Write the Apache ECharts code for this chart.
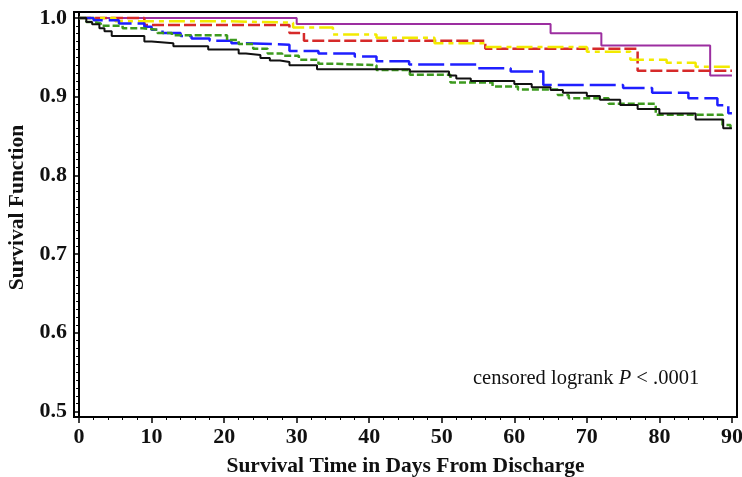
<!DOCTYPE html>
<html>
<head>
<meta charset="utf-8">
<script src="https://cdn.jsdelivr.net/npm/echarts@6/dist/echarts.min.js"></script>
<style>
  html, body { margin: 0; padding: 0; background: #fff; }
  #chart { width: 742px; height: 477px; }
</style>
</head>
<body>
<div id="chart"></div>
<script>
// step points: day of each drop and the survival after it
var purpleDays = [0, 30, 65, 72, 87, 90];
var purpleSurv = [1.0, 0.9924, 0.9806, 0.965, 0.927, 0.927];

var redDays = [0, 9, 29, 31, 56, 77, 90];
var redSurv = [1.0, 0.991, 0.981, 0.971, 0.961, 0.933, 0.933];

var yellowDays = [0, 5, 20, 29.5, 35, 41, 49, 56, 70, 76, 81, 85, 90];
var yellowSurv = [1.0, 0.996, 0.994, 0.988, 0.979, 0.975, 0.968, 0.963, 0.957, 0.947, 0.943, 0.938, 0.938];

var blueDays = [0, 2, 5.5, 9, 10, 11.5, 14, 15.5, 18, 21, 23, 29, 33, 38, 41, 45.5, 55, 59.5, 64, 75, 79, 84, 88, 89.5, 90];
var blueSurv = [1.0, 0.997, 0.993, 0.989, 0.985, 0.981, 0.977, 0.974, 0.971, 0.968, 0.966, 0.958, 0.955, 0.951, 0.945, 0.941, 0.936, 0.932, 0.915, 0.911, 0.905, 0.898, 0.889, 0.879, 0.879];

var greenDays = [0, 1, 2, 3, 6, 8.8, 10.8, 12.8, 20.4, 22, 24, 26, 28, 30.3, 33, 34.6, 41, 45.6, 51.2, 57, 60.5, 66, 67.5, 73, 79.5, 88.7, 89.8, 90];
var greenSurv = [1.0, 0.995, 0.993, 0.990, 0.987, 0.985, 0.981, 0.978, 0.972, 0.967, 0.961, 0.955, 0.952, 0.947, 0.942, 0.940, 0.934, 0.928, 0.918, 0.913, 0.909, 0.902, 0.898, 0.891, 0.877, 0.864, 0.861, 0.861];

var blackDays = [0, 1, 1.8, 2.8, 3.5, 4.5, 9, 10, 13, 17.8, 22, 23, 25, 26.3, 27.7, 29, 32.8, 45.6, 51, 52, 54, 60, 62.4, 65, 66.7, 70, 71.8, 74.6, 77, 80, 85, 88.8, 90];
var blackSurv = [1.0, 0.995, 0.992, 0.987, 0.983, 0.977, 0.970, 0.968, 0.964, 0.960, 0.955, 0.953, 0.949, 0.946, 0.944, 0.940, 0.935, 0.932, 0.927, 0.923, 0.920, 0.916, 0.912, 0.9085, 0.905, 0.901, 0.896, 0.8895, 0.8845, 0.8785, 0.871, 0.860, 0.860];

var xTicks = [0, 10, 20, 30, 40, 50, 60, 70, 80, 90];
var yTicks = [0.5, 0.6, 0.7, 0.8, 0.9, 1.0];

var xMinor = [];
for (var d = 2; d < 90; d += 2) {
    if (d % 10 !== 0) xMinor.push(d);
}
var yMinor = [];
for (var k = 51; k < 100; k++) {
    if (k % 10 !== 0) yMinor.push(k / 100);
}

function pairs(days, surv) {
    return days.map(function (t, i) { return [t, surv[i]]; });
}

function kmLine(name, days, surv, color, width, dash) {
    return {
        name: name,
        type: 'line',
        step: 'end',
        symbol: 'none',
        silent: true,
        data: pairs(days, surv),
        lineStyle: { color: color, width: width, type: dash }
    };
}

var serif = '"Liberation Serif", "DejaVu Serif", serif';

var myChart = echarts.init(document.getElementById('chart'));
var option = {
    animation: false,
    backgroundColor: '#fff',
    grid: {
        left: 74, right: 5, top: 12, bottom: 60,
        outerBoundsMode: 'none',
        show: true, borderColor: '#000', borderWidth: 2
    },
    title: {
        left: 473, top: 368, padding: 0,
        text: '{a|censored logrank }{b|P}{a| < .0001}',
        textStyle: {
            rich: {
                a: { fontFamily: serif, fontSize: 20.5, fontWeight: 'normal', color: '#111' },
                b: { fontFamily: serif, fontSize: 20.5, fontWeight: 'normal', fontStyle: 'italic', color: '#111' }
            }
        }
    },
    xAxis: [{
        type: 'value',
        min: -0.7, max: 90.7,
        name: 'Survival Time in Days From Discharge',
        nameLocation: 'middle',
        nameGap: 38,
        nameTextStyle: { fontFamily: serif, fontSize: 21.5, fontWeight: 'bold', color: '#111' },
        axisLine: { show: true, lineStyle: { color: '#000', width: 2 } },
        axisTick: { show: true, customValues: xTicks, length: 6, lineStyle: { color: '#000', width: 1.5 } },
        axisLabel: {
            customValues: xTicks, margin: 9,
            fontFamily: serif, fontSize: 22, fontWeight: 'bold', color: '#111'
        },
        splitLine: { show: false }
    }, {
        type: 'value',
        min: -0.7, max: 90.7,
        position: 'bottom',
        axisLine: { show: false },
        axisTick: { show: true, customValues: xMinor, length: 3, lineStyle: { color: '#000', width: 1 } },
        axisLabel: { show: false },
        splitLine: { show: false }
    }],
    yAxis: [{
        type: 'value',
        min: 0.493, max: 1.0076,
        name: 'Survival Function',
        nameLocation: 'middle',
        nameGap: 39,
        nameTextStyle: { fontFamily: serif, fontSize: 21.5, fontWeight: 'bold', color: '#111', padding: [0, 0, 0, 14] },
        axisLine: { show: true, lineStyle: { color: '#000', width: 2 } },
        axisTick: { show: true, customValues: yTicks, length: 6, lineStyle: { color: '#000', width: 1.5 } },
        axisLabel: {
            customValues: yTicks, margin: 7,
            formatter: function (v) { return v.toFixed(1); },
            fontFamily: serif, fontSize: 22, fontWeight: 'bold', color: '#111'
        },
        splitLine: { show: false }
    }, {
        type: 'value',
        min: 0.493, max: 1.0076,
        position: 'left',
        axisLine: { show: false },
        axisTick: { show: true, customValues: yMinor, length: 3, lineStyle: { color: '#000', width: 1 } },
        axisLabel: { show: false },
        splitLine: { show: false }
    }],
    series: [
        kmLine('A', purpleDays, purpleSurv, '#9c2ea0', 2, 'solid'),
        kmLine('B', redDays, redSurv, '#d62a2a', 2.5, [12, 4]),
        kmLine('C', yellowDays, yellowSurv, '#f2ea00', 2.5, [16, 5, 5, 5]),
        kmLine('D', blueDays, blueSurv, '#1f1fff', 2.5, [26, 6]),
        kmLine('E', greenDays, greenSurv, '#3d9a1e', 2.5, [7, 3]),
        kmLine('F', blackDays, blackSurv, '#111111', 2, 'solid')
    ]
};
myChart.setOption(option);
</script>
</body>
</html>
